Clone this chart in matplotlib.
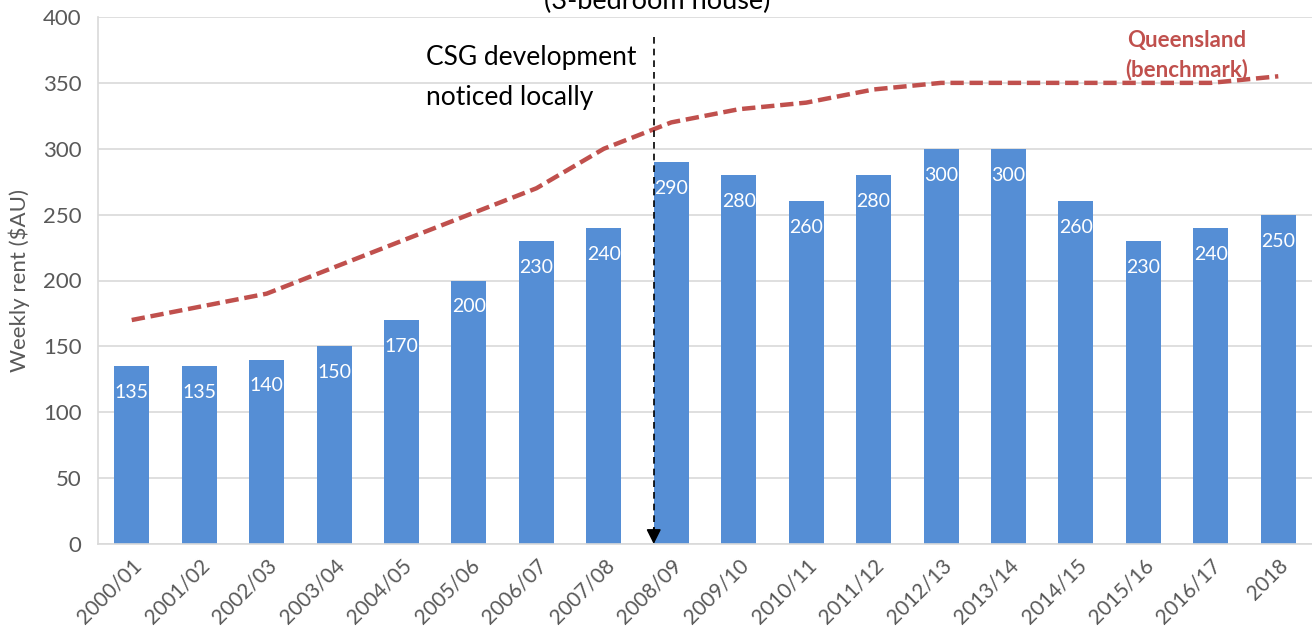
import matplotlib
matplotlib.use("Agg")
import matplotlib.pyplot as plt

plt.rcParams['font.family'] = ['Lato', 'DejaVu Sans']

periods = ["2000/01", "2001/02", "2002/03", "2003/04", "2004/05", "2005/06",
           "2006/07", "2007/08", "2008/09", "2009/10", "2010/11", "2011/12",
           "2012/13", "2013/14", "2014/15", "2015/16", "2016/17", "2018"]
local_rent = [135, 135, 140, 150, 170, 200, 230, 240, 290, 280, 260, 280,
              300, 300, 260, 230, 240, 250]
qld_rent = [170, 180, 190, 210, 230, 250, 270, 300, 320, 330, 335, 345,
            350, 350, 350, 350, 350, 355]
yticks = [0, 50, 100, 150, 200, 250, 300, 350, 400]

BAR = "#558ED5"
RED = "#C0504D"
GRAY = "#595959"

fig = plt.figure(figsize=(13.12, 6.32), dpi=100)
ax = fig.add_axes([98/1312, 88/632, 1 - 98/1312, 527/632])

x = list(range(len(periods)))
ax.bar(x, local_rent, width=0.52, color=BAR, zorder=2)
for xi, v in zip(x, local_rent):
    ax.annotate(str(v), (xi, v), xytext=(0, -19), textcoords='offset points',
                ha='center', va='center', color='white', fontsize=14, zorder=4)

ax.plot(x, qld_rent, color=RED, lw=3.2, dashes=(3, 1.3), zorder=3)

ax.set_xlim(-0.5, len(periods) - 0.5)
ax.set_ylim(0, 400)
ax.set_yticks(yticks)
ax.set_xticks(x)
ax.set_xticklabels(periods, rotation=45, ha='right', rotation_mode='anchor')
ax.tick_params(axis='both', colors=GRAY, labelsize=16, length=0)
ax.tick_params(axis='x', labelsize=15, pad=8)
ax.tick_params(axis='y', pad=12)
ax.grid(axis='y', color='#D9D9D9', lw=1.2, zorder=0)
for s in ['top', 'right']:
    ax.spines[s].set_visible(False)
ax.spines['left'].set_color('#D9D9D9')
ax.spines['bottom'].set_color('#D9D9D9')
ax.spines['left'].set_linewidth(1.2)
ax.spines['bottom'].set_linewidth(1.2)
ax.set_ylabel("Weekly rent ($AU)", color=GRAY, fontsize=16)
ax.yaxis.set_label_coords(-68/1214, 0.5)

# CSG annotation arrow
xa = 7.74
ax.plot([xa, xa], [385, 6], color='black', lw=1.2, ls=(0, (4, 3)), zorder=5)
ax.annotate('', xy=(xa, 0), xytext=(xa, 12),
            arrowprops=dict(arrowstyle='-|>', color='black', lw=1.2,
                            mutation_scale=22, shrinkA=0, shrinkB=0), zorder=5)
ax.text(426/1312, 1 - 58/632, "CSG development", transform=fig.transFigure,
        ha='left', va='center', fontsize=19, color='black')
ax.text(426/1312, 1 - 98/632, "noticed locally", transform=fig.transFigure,
        ha='left', va='center', fontsize=19, color='black')

fig.text(1187/1312, 1 - 41/632, "Queensland", ha='center', va='center',
         color=RED, fontsize=16, fontweight='bold')
fig.text(1187/1312, 1 - 70/632, "(benchmark)", ha='center', va='center',
         color=RED, fontsize=16, fontweight='bold')

fig.text(657/1312, 1 - 9/632, "(3-bedroom house)", ha='center', va='baseline',
         fontsize=19.5, color='black')

fig.savefig("out.png", dpi=100)
